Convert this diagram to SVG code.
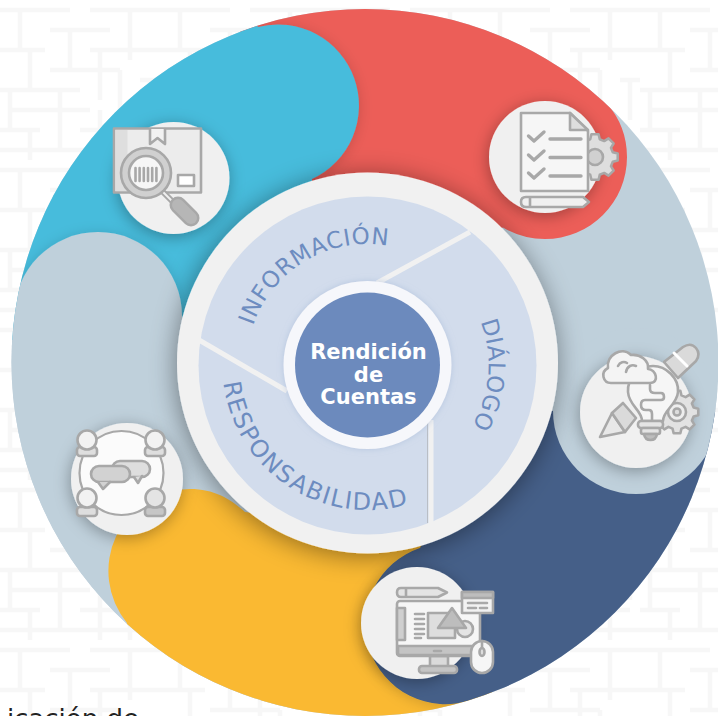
<svg xmlns="http://www.w3.org/2000/svg" xmlns:xlink="http://www.w3.org/1999/xlink" width="718" height="716" viewBox="0 0 718 716">
<style>
.ic{stroke:#a8a8a8;stroke-width:2.6;stroke-linejoin:round;stroke-linecap:round;fill:none}
.base{fill:#f0f0f0}
.lab{font-family:"DejaVu Sans",sans-serif;font-size:23px;fill:#6d8cc0}
.hub{font-family:"DejaVu Sans",sans-serif;font-weight:700;font-size:21px;fill:#fff;text-anchor:middle}
</style>
<defs>
<pattern id="maze" width="160" height="160" patternUnits="userSpaceOnUse">
<rect width="160" height="160" fill="#fff"/>
<path fill="none" stroke="#f7f7f7" stroke-width="4.500" d="M0 10H70M90 10H160M20 10V50M50 30H110M70 30V70M130 10V60M0 50H45M90 50H160M30 50V90M50 70H120M100 50V100M0 90H80M120 70V130M140 80H160M150 80V120M10 90V130M10 110H90M60 90V150M0 130H40M80 130H150M100 110V160M30 130V160M0 150H160M130 130V160"/>
</pattern>
<clipPath id="disc"><circle cx="365" cy="362.5" r="353.5"/></clipPath>
<filter id="sh" x="-30%" y="-30%" width="160%" height="160%"><feDropShadow dx="-1" dy="3" stdDeviation="8" flood-color="#000" flood-opacity=".32"/></filter>
<filter id="ringsh" x="-20%" y="-20%" width="140%" height="140%"><feDropShadow dx="-1" dy="3" stdDeviation="13" flood-color="#000" flood-opacity=".42"/></filter>
<filter id="soft" x="-20%" y="-20%" width="140%" height="140%"><feDropShadow dx="0" dy="2" stdDeviation="7" flood-color="#000" flood-opacity=".16"/></filter>
<filter id="hubglow" x="-20%" y="-20%" width="140%" height="140%"><feDropShadow dx="0" dy="0" stdDeviation="3" flood-color="#9fb2d4" flood-opacity=".55"/></filter>
<path id="gear" d="M7.73-2.07L9.88-1.56L9.88 1.56L7.73 2.07L6.93 4L8.09 5.88L5.88 8.09L4 6.93L2.07 7.73L1.56 9.88L-1.56 9.88L-2.07 7.73L-4 6.93L-5.88 8.09L-8.09 5.88L-6.93 4L-7.73 2.07L-9.88 1.56L-9.88-1.56L-7.73-2.07L-6.93-4L-8.09-5.88L-5.88-8.09L-4-6.93L-2.07-7.73L-1.56-9.88L1.56-9.88L2.07-7.73L4-6.93L5.88-8.09L8.09-5.88L6.93-4Z"/>
<path id="arcInfo" d="M253.1 325.6A121 121 0 0 1 392.7 246.6"/>
<path id="arcDial" d="M480.5 321.6A121 121 0 0 1 460.2 442.8"/>
<path id="arcResp" d="M223.6 382.7A145 145 0 0 0 428.8 496.4"/>
</defs>

<rect id="background" width="718" height="716" fill="url(#maze)"/>
<text id="caption" x="139" y="728" text-anchor="end" font-family="DejaVu Sans, sans-serif" font-size="26" fill="#222">icación de</text>

<g id="wheel" clip-path="url(#disc)">
<rect x="0" y="0" width="718" height="716" fill="#bfd0db"/>
<path id="lobe-red" fill="#ec5e58" d="M240 0H680L607 103.500A82 82 0 0 1 627 157A82 82 0 0 1 545 239A82 82 0 0 1 503 227.500L400 260L240 120Z"/>
<path id="lobe-cyan" fill="#47bcdc" d="M240 0L258 27A81 81 0 0 1 312 179L310 340H0V200Z" filter="url(#soft)"/>
<path id="lobe-gray-left" fill="#bfd0db" d="M14 316A84 84 0 0 1 182 316L220 400L300 500V730H-30V316Z" filter="url(#soft)"/>
<path id="lobe-yellow" fill="#fab932" d="M190 489C215 489 232 500 245 512L300 520L460 530L500 730H100L127 623A82 82 0 0 1 190 489Z"/>
<path id="lobe-blue" fill="#445f88" d="M420 548A80 80 0 0 0 471 700L730 730V411H500Z" filter="url(#soft)"/>
<circle id="lobe-gray-right" cx="636" cy="411" r="83" fill="#bfd0db"/>
</g>

<g id="hub">
<circle cx="367.500" cy="363" r="190.500" fill="#f1f1f1" filter="url(#ringsh)"/>
<circle cx="367.500" cy="365.500" r="169" fill="#d2dcec"/>
<path fill="none" stroke="#f1f1f1" stroke-width="5" d="M377 283L470 232M199 340L287 391M431 420V526"/>
<path fill="none" stroke="#b9bec6" stroke-width="1" d="M427.500 420V523"/>
<circle cx="367.500" cy="365" r="84" fill="#f6f7fb" filter="url(#hubglow)"/>
<circle cx="367.500" cy="365" r="72.500" fill="#6c8abd"/>
<text class="hub" x="368.500" y="358.500">Rendición</text>
<text class="hub" x="368.500" y="381.500">de</text>
<text class="hub" x="368.500" y="404">Cuentas</text>
</g>

<g id="segment-informacion"><text class="lab"><textPath href="#arcInfo" textLength="170">INFORMACIÓN</textPath></text></g>
<g id="segment-dialogo"><text class="lab"><textPath href="#arcDial" textLength="108">DIÁLOGO</textPath></text></g>
<g id="segment-responsabilidad"><text class="lab" style="font-size:24px"><textPath href="#arcResp" textLength="251">RESPONSABILIDAD</textPath></text></g>

<g id="node-informacion">
<circle class="base" cx="173.500" cy="178" r="56" filter="url(#sh)"/>
<g class="ic">
<rect x="114" y="128.500" width="87" height="64" fill="#ececec"/>
<rect x="115.500" y="130" width="12" height="61" fill="#dedede" stroke="none"/>
<path d="M150 129V144L157.500 138L165 144V129" fill="#f2f2f2"/>
<rect x="178" y="175" width="16" height="11" fill="#fff"/>
<path d="M163 192L173 202" stroke-width="6"/>
<path d="M163 192L173 202" stroke="#f0f0f0" stroke-width="2"/>
<path d="M178 205L191 218" stroke-width="17"/>
<path d="M178 205L191 218" stroke="#b6b6b6" stroke-width="12"/>
<circle cx="146" cy="173" r="25" fill="#d0d0d0"/>
<circle cx="146" cy="173" r="17" fill="#f6f6f6"/>
<path d="M135.500 168V181M139.600 168V181M143.800 168V181M148 168V181M152.200 168V181M156.400 168V181"/>
</g>
</g>

<g id="node-dialogo">
<circle class="base" cx="545" cy="157" r="56" filter="url(#sh)"/>
<g class="ic">
<use href="#gear" transform="translate(595 157) scale(2.3)" fill="#dedede" stroke-width="1.100"/>
<circle cx="595" cy="157" r="8" fill="#d0d0d0"/>
<path d="M521 113H570L588 131V191H521Z" fill="#f6f6f6"/>
<path d="M570 113V130H588Z" fill="#dedede"/>
<path d="M528.500 136L534 141L544 132M528.500 155L534 160L544 151M528.500 173L534 178L544 169M550 139H581M550 157.500H581M550 176H581" stroke-width="3.400"/>
<path d="M526 197H583L589 202L583 207H526Q521 207 521 202Q521 197 526 197ZM530 197V207" fill="#f0f0f0"/>
</g>
</g>

<g id="node-idea">
<circle class="base" cx="636" cy="412" r="56" filter="url(#sh)"/>
<g class="ic">
<path d="M612 413L600 437L625 432Z" fill="#e8e8e8"/>
<path d="M612 413L623 403L636 418L625 432Z" fill="#dadada"/>
<path d="M664 362L683 347Q691 342 696 348Q701 354 696 361L678 378Z" fill="#dadada"/>
<path d="M674 353L687 366" stroke="#fff" stroke-width="3"/>
<use href="#gear" transform="translate(677 412) scale(2.150)" fill="#e2e2e2" stroke-width="1.200"/>
<circle cx="677" cy="412" r="9" fill="#eee"/>
<circle cx="677" cy="412" r="3.500" fill="#ddd"/>
<path d="M642 421C642 410 629 406 628 392C627 378 640 366 653 366C666 366 679 378 678 392C677 405 663 410 663 421Z" fill="#f6f6f6"/>
<path d="M650 385V389Q650 393 655 393H661Q664 393 664 397Q664 400 661 400H645Q641 400 641 405Q641 410 646 410H649Q652 410 652 414V421"/>
<path d="M611 383C603 383 600 372 608 368C606 355 622 346 631 355C640 354 649 360 648 369C656 369 660 383 650 383Z" fill="#f4f4f4"/>
<path d="M626 372C627 366 632 364 636 366M618 366C620 362 624 361 627 363"/>
<rect x="638" y="421" width="25" height="7" rx="3" fill="#e4e4e4"/>
<rect x="641" y="428" width="19" height="6" rx="2" fill="#e4e4e4"/>
<path d="M644 434H657Q656 440 650.500 440Q645 440 644 434Z" fill="#bdbdbd"/>
</g>
</g>

<g id="node-monitor">
<circle class="base" cx="417" cy="623" r="56" filter="url(#sh)"/>
<g class="ic">
<path d="M401 588H438L447 592.500L438 597H401Q397 597 397 592.500Q397 588 401 588ZM406 588V597" fill="#e4e4e4"/>
<rect x="430" y="656" width="18" height="11" fill="#dadada"/>
<rect x="419" y="666" width="38" height="7" rx="3" fill="#c4c4c4"/>
<rect x="397" y="601" width="83" height="55" rx="3" fill="#f6f6f6"/>
<path d="M398 646H479V653Q479 655 477 655H400Q398 655 398 653Z" fill="#c4c4c4"/>
<path d="M397 608V640H405V608Z" fill="#cfcfcf"/>
<path d="M415 614H424M415 619H424M415 624H424M415 629H424M415 634H424M415 638H421M434 651H441"/>
<rect x="428" y="613" width="27" height="25" fill="#dedede"/>
<circle cx="465" cy="629" r="8" fill="#e4e4e4"/>
<path d="M452 608L438 628H466Z" fill="#bdbdbd"/>
<rect x="462" y="592" width="31" height="21" fill="#f2f2f2"/>
<path d="M462 592H493V598H462Z" fill="#bdbdbd"/>
<path d="M468 603H487M468 608H476M480 608H487"/>
<rect x="471" y="641" width="22" height="32" rx="11" fill="#f6f6f6"/>
<path d="M482 641V649"/>
<ellipse cx="482" cy="652" rx="2.500" ry="4" fill="#ddd"/>
</g>
</g>

<g id="node-responsabilidad">
<circle class="base" cx="127" cy="479" r="56" filter="url(#sh)"/>
<circle cx="121.500" cy="473" r="42" fill="#fbfbfb" stroke="#a8a8a8" stroke-width="2.200"/>
<g class="ic">
<rect x="112" y="461" width="38" height="16" rx="8" fill="#dedede"/>
<path d="M134 477L138 483L142 476" fill="#dedede"/>
<rect x="91" y="466" width="39" height="16" rx="8" fill="#d2d2d2"/>
<path d="M98 482L103 489L110 482" fill="#d2d2d2"/>
<rect x="77" y="447" width="20" height="9" rx="3" fill="#dedede"/>
<circle cx="87" cy="440" r="9.500" fill="#f2f2f2"/>
<rect x="145" y="447" width="20" height="9" rx="3" fill="#dedede"/>
<circle cx="155" cy="440" r="9.500" fill="#f2f2f2"/>
<rect x="77" y="507" width="20" height="9" rx="3" fill="#dedede"/>
<circle cx="87" cy="498" r="9.500" fill="#f2f2f2"/>
<rect x="145" y="507" width="20" height="9" rx="3" fill="#c6c6c6"/>
<circle cx="155" cy="498" r="9.500" fill="#e4e4e4"/>
</g>
</g>
</svg>
